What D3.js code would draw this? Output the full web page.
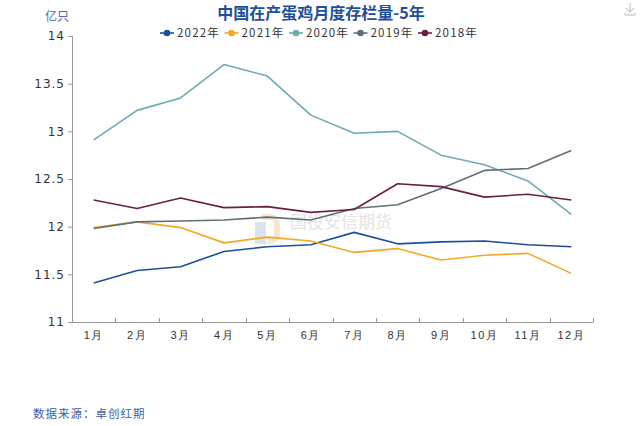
<!DOCTYPE html>
<html><head><meta charset="utf-8">
<script src="https://cdn.jsdelivr.net/npm/d3@7"></script>
<style>
html,body{margin:0;padding:0;background:#fff;}
svg{display:block;font-family:"Noto Sans CJK SC","DejaVu Sans",sans-serif;}
</style></head>
<body><svg id="c" width="640" height="426"></svg>
<script>
const months = ["1月","2月","3月","4月","5月","6月","7月","8月","9月","10月","11月","12月"];
const seriesNames = ["2022年","2021年","2020年","2019年","2018年"];
const seriesColors = ["#1c4f9c","#f3a724","#6eaab3","#5f6f77","#6a1f45"];
const s2022 = [11.41,11.54,11.58,11.74,11.79,11.81,11.94,11.82,11.84,11.85,11.81,11.79];
const s2021 = [11.99,12.05,11.99,11.83,11.89,11.85,11.73,11.77,11.65,11.70,11.72,11.51];
const s2020 = [12.91,13.22,13.35,13.70,13.58,13.17,12.98,13.00,12.75,12.65,12.48,12.13];
const s2019 = [11.98,12.05,12.06,12.07,12.10,12.07,12.19,12.23,12.40,12.59,12.61,12.80];
const s2018 = [12.28,12.19,12.30,12.20,12.21,12.15,12.18,12.45,12.42,12.31,12.34,12.28];
const yTicks = [11,11.5,12,12.5,13,13.5,14];
const seriesData = [s2022,s2021,s2020,s2019,s2018];

const svg = d3.select("#c");
const x = d3.scaleBand().domain(months).range([72,593]);
const y = d3.scaleLinear().domain([11,14]).range([322,36]);

// watermark
const wm = svg.append("g");
wm.append("rect").attr("x",255).attr("y",222).attr("width",11).attr("height",22).attr("fill","#dbe4ee");
wm.append("path").attr("d","M262,214 h8 a10,10 0 0 1 10,10 v10 a10,10 0 0 1 -10,10 h-3 v-6 h3 a4,4 0 0 0 4,-4 v-10 a4,4 0 0 0 -4,-4 h-8 z").attr("fill","#f6e6d2");
wm.append("text").attr("x",290).attr("y",228).attr("font-size",17).attr("fill","#e4e4e4").text("国投安信期货");

// title
svg.append("text").attr("x",321).attr("y",19).attr("text-anchor","middle")
  .attr("font-size",16).attr("font-weight","bold").attr("fill","#1d4f9c").text("中国在产蛋鸡月度存栏量-5年");
svg.append("text").attr("x",57).attr("y",21).attr("text-anchor","middle")
  .attr("font-size",12).attr("fill","#4a6db3").text("亿只");

// download icon
const di = svg.append("g").attr("stroke","#b8b8b8").attr("fill","none").attr("stroke-width",1);
di.append("path").attr("d","M630,3 v9 M626,8 l4,4 l4,-4 M625,13 v2 h10 v-2");

// axes
const yAxis = d3.axisLeft(y).tickValues(yTicks).tickSize(4).tickPadding(3).tickFormat(d=>String(d));
const gy = svg.append("g").attr("transform","translate(72,0)").call(yAxis);
gy.select(".domain").attr("stroke","#999").attr("d","M-4,36.5H0.5V322.5");
gy.selectAll(".tick line").attr("stroke","#999");
gy.selectAll("text").attr("font-size",12).attr("fill","#333").attr("letter-spacing","1px").attr("font-family","'DejaVu Sans',sans-serif");

const xAxis = d3.axisBottom(x).tickSize(0).tickPadding(9);
const gx = svg.append("g").attr("transform","translate(0,322)").call(xAxis);
gx.select(".domain").attr("stroke","#999").attr("d","M72,0.5H593.5");
gx.selectAll("text").attr("font-size",11).attr("fill","#333").attr("letter-spacing","1.5px");
const bounds = months.map(m=>x(m)).concat([x.range()[1]]);
gx.selectAll(".bt").data(bounds.slice(1)).enter().append("line")
  .attr("x1",d=>Math.round(d)+0.5).attr("x2",d=>Math.round(d)+0.5).attr("y1",0).attr("y2",-4).attr("stroke","#999");

// lines
const line = d3.line().x((d,i)=>x(months[i])+x.bandwidth()/2).y(d=>y(d));
seriesData.forEach((s,k)=>{
  svg.append("path").datum(s).attr("d",line).attr("fill","none")
    .attr("stroke",seriesColors[k]).attr("stroke-width",1.6).attr("stroke-linejoin","round");
});

// legend
const lg = svg.append("g");
seriesNames.forEach((n,k)=>{
  const gx0 = 160 + k*64.5;
  const g = lg.append("g").attr("transform",`translate(${gx0},33)`);
  g.append("line").attr("x1",0).attr("x2",14).attr("y1",0).attr("y2",0).attr("stroke",seriesColors[k]).attr("stroke-width",1.6);
  g.append("circle").attr("cx",7).attr("cy",0).attr("r",3.3).attr("fill",seriesColors[k]);
  g.append("text").attr("x",17).attr("y",4.3).attr("font-size",11.5).attr("fill","#333").attr("letter-spacing","1.2px").text(n);
});

// footer
svg.append("text").attr("x",33).attr("y",418).attr("font-size",11.5).attr("fill","#3b62a0").attr("letter-spacing","1px").text("数据来源：卓创红期");
</script></body></html>
